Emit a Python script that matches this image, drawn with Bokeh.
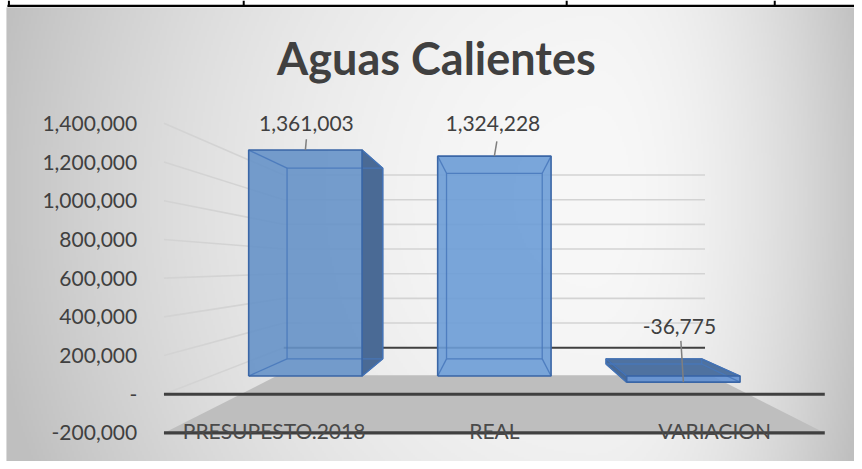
import numpy as np
from bokeh.plotting import figure
from bokeh.models import Range1d
from bokeh.core.properties import value
from bokeh.embed import file_html
from bokeh.resources import INLINE

# ---------------- data ----------------
title_text = "Aguas Calientes"
categories = ["PRESUPESTO.2018", "REAL", "VARIACION"]
values = [1361003, 1324228, -36775]
y_ticks = [-200000, 0, 200000, 400000, 600000, 800000, 1000000, 1200000, 1400000]
y_tick_labels = ["-200,000", "-", "200,000", "400,000", "600,000", "800,000",
                 "1,000,000", "1,200,000", "1,400,000"]

# ---------------- geometry / style ----------------
W, H = 854, 461            # figure size
REF_W, REF_H = 862, 469    # reference picture size the geometry is laid out in
X_LEFT_PX, X_RIGHT_PX = 165.0, 832.0
Y_ZERO_PX = 400.6
PXY = 39.375 / 200000.0              # reference pixels per value unit (front plane)
PXX = (X_RIGHT_PX - X_LEFT_PX) / 3.0  # reference pixels per category slot

x_start = (0 - X_LEFT_PX) / PXX
x_end = (REF_W - X_LEFT_PX) / PXX
y_end = Y_ZERO_PX / PXY
y_start = (Y_ZERO_PX - REF_H) / PXY


def dx_of(px):
    return (px - X_LEFT_PX) / PXX


def dy_of(py):
    return (Y_ZERO_PX - py) / PXY


XV = 1.5                              # vanishing point (data units)
VV = (Y_ZERO_PX - 270.0) / PXY
K_FRONT, K_BAR_F, K_BAR_B, K_WALL, K_FLOOR = 1.0, 0.858, 0.724, 0.6375, 0.655
HALF_W = 0.30

FONT = value("Lato")
TXT = "#404040"


def proj(x, v, k):
    return XV + (x - XV) * k, VV + (v - VV) * k


def seg(a, b):
    return [a[0], b[0]], [a[1], b[1]]


p = figure(width=W, height=H, x_range=Range1d(x_start, x_end),
           y_range=Range1d(y_start, y_end), output_backend="svg",
           toolbar_location=None, min_border=0, x_axis_type=None, y_axis_type=None)
p.outline_line_color = None
p.background_fill_color = "white"
p.border_fill_color = "white"

# ---------------- background gradient (chart area) ----------------
BG_X0, BG_Y0 = 6, 7
bw, bh = (REF_W - BG_X0) // 2, (REF_H - BG_Y0) // 2
gx, gy = np.meshgrid(BG_X0 + (np.arange(bw) + 0.5) * 2, BG_Y0 + (np.arange(bh) + 0.5) * 2)
ddx = gx - 600.0
rx = np.where(ddx < 0, 620.0, 280.0)
t2 = np.clip((ddx / rx) ** 2 + ((gy - 200.0) / 700.0) ** 2, 0, 1)
g = (248 - 57 * t2).astype(np.uint8)
img = np.zeros((bh, bw), dtype=np.uint32)
view = img.view(dtype=np.uint8).reshape((bh, bw, 4))
view[:, :, 0] = g
view[:, :, 1] = g
view[:, :, 2] = g
view[:, :, 3] = 255
p.image_rgba(image=[img[::-1]], x=dx_of(BG_X0), y=dy_of(REF_H),
             dw=dx_of(REF_W) - dx_of(BG_X0), dh=dy_of(BG_Y0) - dy_of(REF_H))

# borders of the surrounding table
p.segment(x0=[dx_of(7)], y0=[dy_of(5.5)], x1=[dx_of(REF_W)], y1=[dy_of(5.5)],
          line_color="black", line_width=2.2)
stub_x = [8.5, 245.5, 571.5, 781.5]
p.segment(x0=[dx_of(s) for s in stub_x], y0=[dy_of(0)] * 4,
          x1=[dx_of(s) for s in stub_x], y1=[dy_of(6)] * 4,
          line_color="black", line_width=2)

vmin, vmax = y_ticks[0], y_ticks[-1]
n = len(categories)

# ---------------- floor ----------------
fl = [proj(0, vmin, K_FRONT), proj(n, vmin, K_FRONT), proj(n, vmin, K_FLOOR), proj(0, vmin, K_FLOOR)]
p.patch([c[0] for c in fl], [c[1] for c in fl], fill_color="#bebebe", line_color=None)

# ---------------- walls gridlines ----------------
gxs, gys = [], []
for v in y_ticks:
    if v > 0:
        a, b = seg(proj(0, v, K_WALL), proj(n, v, K_WALL))
        gxs.append(a); gys.append(b)
    if v >= 0:
        a, b = seg(proj(0, v, K_FRONT), proj(0, v, K_WALL))
        gxs.append(a); gys.append(b)
p.multi_line(gxs, gys, line_color="#d3d3d3", line_width=1.6)

a, b = seg(proj(0, 0, K_WALL), proj(n, 0, K_WALL))
p.line(a, b, line_color="#404040", line_width=2.2)

for v in (0, vmin):
    a, b = seg(proj(0, v, K_FRONT), proj(n, v, K_FRONT))
    p.line(a, b, line_color="#404040", line_width=3.2)

# ---------------- 3D bars ----------------
front_cols = ["#6692c8", "#6c9cd6", "#5f8fd2"]
side_col = "#4a6a95"
top_col = "#4f72a0"
for i, v in enumerate(values):
    c = i + 0.5
    xl, xr = c - HALF_W, c + HALF_W
    lo, hi = min(v, 0), max(v, 0)
    F = {(xx, vv): proj(xx, vv, K_BAR_F) for xx in (xl, xr) for vv in (lo, hi)}
    B = {(xx, vv): proj(xx, vv, K_BAR_B) for xx in (xl, xr) for vv in (lo, hi)}
    faces, cols = [], []
    if xr < XV:
        faces.append([F[(xr, lo)], F[(xr, hi)], B[(xr, hi)], B[(xr, lo)]]); cols.append(side_col)
    if xl > XV:
        faces.append([F[(xl, lo)], F[(xl, hi)], B[(xl, hi)], B[(xl, lo)]]); cols.append(side_col)
    if hi < VV:
        faces.append([F[(xl, hi)], F[(xr, hi)], B[(xr, hi)], B[(xl, hi)]]); cols.append(top_col)
    if faces:
        p.patches([[q[0] for q in f] for f in faces], [[q[1] for q in f] for f in faces],
                  fill_color=cols, line_color="#3a64a0", line_width=1.3)
    front = [F[(xl, lo)], F[(xr, lo)], F[(xr, hi)], F[(xl, hi)]]
    p.patch([q[0] for q in front], [q[1] for q in front], fill_color=front_cols[i],
            fill_alpha=0.9, line_color=None)
    exs, eys = [], []
    back = [B[(xl, lo)], B[(xr, lo)], B[(xr, hi)], B[(xl, hi)], B[(xl, lo)]]
    exs.append([q[0] for q in back]); eys.append([q[1] for q in back])
    for key in F:
        a, b = seg(F[key], B[key])
        exs.append(a); eys.append(b)
    p.multi_line(exs, eys, line_color="#4677bb", line_width=1.3, line_alpha=0.85)
    fr = front + [front[0]]
    p.line([q[0] for q in fr], [q[1] for q in fr], line_color="#3a66a6", line_width=1.6)

# ---------------- data labels with leader lines ----------------
label_dx = [1.0, -1.5, -4.0]       # px
label_dy = [27.0, 33.0, 57.0]      # px up from bar end
leader_dx = [1.0, 2.5, -2.5]
leader_dy = [11.0, 15.0, 42.0]
lx, ly, ltxt, sx0, sy0, sx1, sy1 = [], [], [], [], [], [], []
for i, v in enumerate(values):
    ax_, ay_ = proj(i + 0.5, v, K_BAR_F)
    lx.append(ax_ + label_dx[i] / PXX)
    ly.append(ay_ + label_dy[i] / PXY)
    ltxt.append(f"{v:,.0f}")
    sx0.append(ax_ + leader_dx[i] / PXX); sy0.append(ay_ + leader_dy[i] / PXY)
    sx1.append(ax_); sy1.append(ay_)
p.segment(x0=sx0, y0=sy0, x1=sx1, y1=sy1, line_color="#7f7f7f", line_width=1.5)
p.text(x=lx, y=ly, text=ltxt, text_font=FONT, text_font_size="21px", text_color=TXT,
       text_align="center", text_baseline="middle")

# ---------------- category labels ----------------
p.text(x=[i + 0.5 for i in range(n)], y=[vmin + 3 / PXY] * n, text=categories,
       text_font=FONT, text_font_size="21px", text_color="#4a4a4a",
       text_align="center", text_baseline="alphabetic")

# ---------------- value axis labels ----------------
p.text(x=[dx_of(138)] * len(y_ticks), y=y_ticks, text=y_tick_labels,
       text_font=FONT, text_font_size="21px", text_color=TXT,
       text_align="right", text_baseline="middle")

# ---------------- title ----------------
p.text(x=[dx_of(440)], y=[dy_of(58)], text=[title_text],
       text_font=FONT, text_font_size="45px", text_font_style="bold", text_color=TXT,
       text_align="center", text_baseline="middle")

open("out.html", "w").write(file_html(p, INLINE))
